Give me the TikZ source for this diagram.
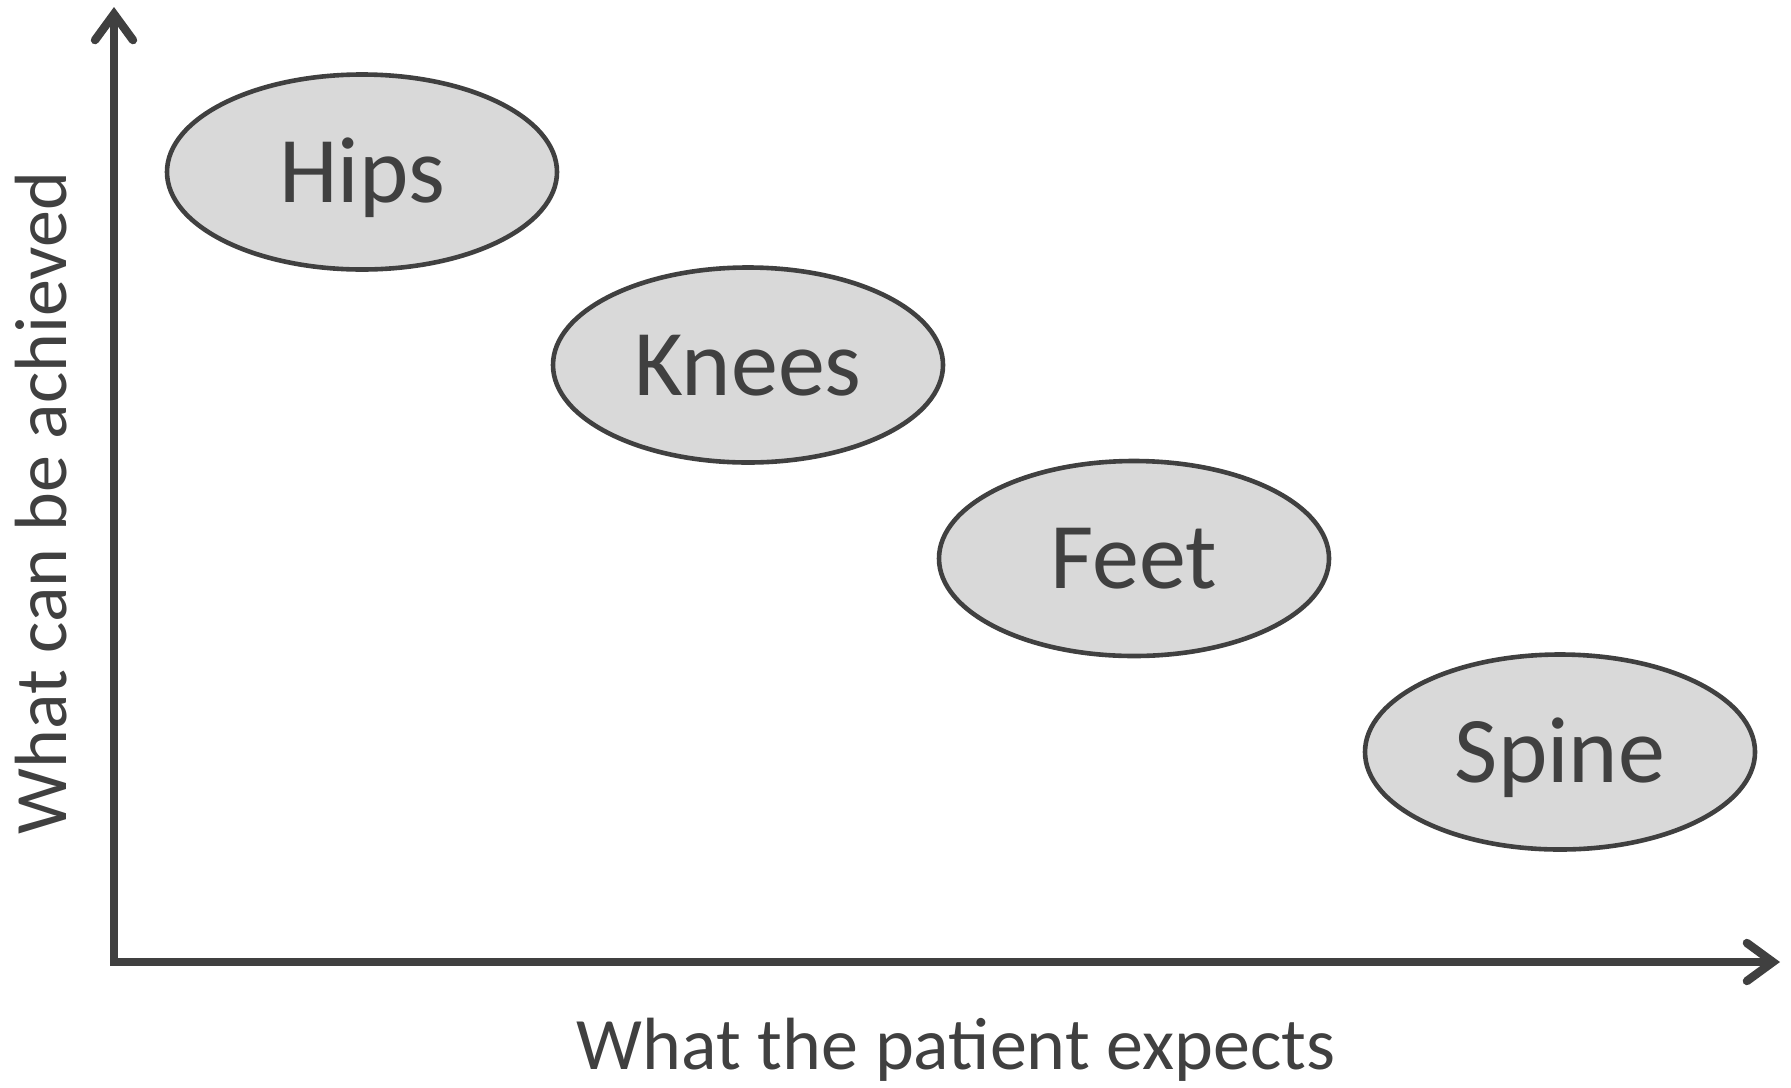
\documentclass[tikz,border=0pt]{standalone}
\usepackage{fontspec}
\setmainfont{Carlito}
\usetikzlibrary{shapes.geometric,arrows.meta}
\definecolor{ink}{HTML}{404040}
\definecolor{bubble}{HTML}{D9D9D9}
\tikzset{
  bodypart/.style={ellipse, draw=ink, fill=bubble, line width=2.3pt,
    minimum width=195pt, minimum height=97.5pt, inner sep=0pt,
    text=ink, font=\fontsize{47}{50}\selectfont, text height=30.3pt, text depth=0pt},
  axisline/.style={draw=ink, line width=3.8pt,
    -{Straight Barb[length=13pt, width=19pt, line width=4.2pt, line cap=round, line join=miter]}},
  axislabel/.style={text=ink, font=\fontsize{37}{42}\selectfont, inner sep=0pt}
}
\begin{document}
\begin{tikzpicture}[x=0.5pt, y=-0.5pt]
\useasboundingbox (0,0) rectangle (1791,1087);
\coordinate (origin) at (114,962);
\coordinate (ytop) at (114,7);
\coordinate (xend) at (1780,962);
\draw[axisline] ([yshift=-1.9pt]origin) -- (ytop);
\draw[axisline] ([xshift=-1.9pt]origin) -- (xend);
\node[bodypart] (hips) at (362,172) {Hips};
\node[bodypart] (knees) at (748,365) {Knees};
\node[bodypart] (feet) at (1134,558.5) {Feet};
\node[bodypart] (spine) at (1560,752) {Spine};
\node[axislabel, anchor=base] (xlab) at (956,1069) {What the patient expects};
\node[axislabel, anchor=base, rotate=90] (ylab) at (66,503) {What can be achieved};
\end{tikzpicture}
\end{document}
